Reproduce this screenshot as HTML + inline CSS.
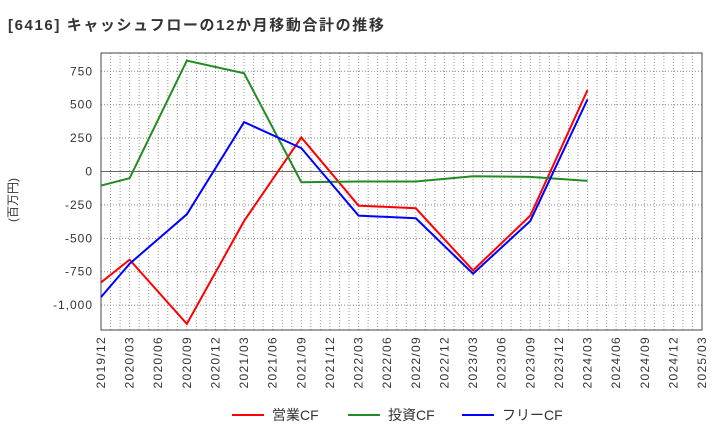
<!DOCTYPE html>
<html><head><meta charset="utf-8"><style>
body{margin:0;background:#fff;}
svg text{font-family:"Liberation Sans","Noto Sans CJK JP",sans-serif;}
</style></head><body>
<svg id="chart" width="720" height="440" xmlns="http://www.w3.org/2000/svg">
<text x="8" y="30" font-size="15" font-weight="bold" fill="#333" letter-spacing="1.6">[6416]  キャッシュフローの12か月移動合計の推移</text>
<text transform="translate(17,200) rotate(-90)" font-size="12" fill="#333" text-anchor="middle">(百万円)</text>
<g id="grid"></g><g id="axes"></g><g id="series"></g><g id="legend"></g>
</svg>
<script>
const tickLabels=["2019/12","2020/03","2020/06","2020/09","2020/12","2021/03","2021/06","2021/09","2021/12","2022/03","2022/06","2022/09","2022/12","2023/03","2023/06","2023/09","2023/12","2024/03","2024/06","2024/09","2024/12","2025/03"];
const yTicks=[750,500,250,0,-250,-500,-750,-1000];
const dates=["2019/12","2020/03","2020/09","2021/03","2021/09","2022/03","2022/09","2023/03","2023/09","2024/03"];
const operatingCF=[-830,-660,-1140,-370,255,-255,-275,-740,-330,610];
const investingCF=[-105,-50,830,735,-80,-75,-75,-35,-40,-70];
const freeCF=[-940,-690,-320,370,175,-330,-350,-765,-370,540];
const NS="http://www.w3.org/2000/svg";
const L=101,R=702,T=53,B=330,ymin=-1186,ymax=887;
function idx(d){const [y,m]=d.split("/").map(Number);return (y-2019)*12+m-12;}
const nMonths=idx("2025/03");
function xs(d){return L+idx(d)/nMonths*(R-L);}
function ys(v){return B-(v-ymin)/(ymax-ymin)*(B-T);}
function mk(tag,attrs,parent){const e=document.createElementNS(NS,tag);for(const k in attrs)e.setAttribute(k,attrs[k]);parent.appendChild(e);return e;}
const grid=document.getElementById("grid"),axes=document.getElementById("axes"),series=document.getElementById("series"),legend=document.getElementById("legend");
for(let m=1;m<nMonths;m++){const x=L+m/nMonths*(R-L);
const g=mk("line",{x1:x,x2:x,y1:T,y2:B,stroke:"#999","stroke-dasharray":"1,2","stroke-width":1},grid);

}
yTicks.forEach(v=>{const y=ys(v);
const g=mk("line",{x1:L,x2:R,y1:y,y2:y,stroke:v===0?"#666":"#888","stroke-dasharray":v===0?"":"1,2","stroke-width":1},grid);


const t=mk("text",{x:L-8,y:y+4,"text-anchor":"end","font-size":12,"letter-spacing":1,fill:"#333"},axes);t.textContent=v.toLocaleString("en-US");

});
const frame=mk("rect",{x:L,y:T,width:R-L,height:B-T,fill:"none",stroke:"#444","stroke-width":1},axes);


tickLabels.forEach(d=>{const x=xs(d);
const t=mk("text",{transform:`translate(${x+4},${B+6}) rotate(-90)`,"text-anchor":"end","font-size":12,"letter-spacing":1.3,fill:"#333"},axes);t.textContent=d;

});
const defs=[["営業CF",operatingCF,"#ff0000","operating-cf-line"],["投資CF",investingCF,"#228b22","investing-cf-line"],["フリーCF",freeCF,"#0000ff","free-cf-line"]];
defs.forEach(([name,vals,col,dn])=>{
const p=mk("polyline",{points:vals.map((v,i)=>xs(dates[i])+","+ys(v)).join(" "),fill:"none",stroke:col,"stroke-width":2},series);

});
const lx=[232,348,462];
defs.forEach(([name,vals,col,dn],i)=>{
const g=mk("g",{},legend);


mk("line",{x1:lx[i],x2:lx[i]+32,y1:415,y2:415,stroke:col,"stroke-width":2},g);
const t=mk("text",{x:lx[i]+40,y:420,"font-size":14,fill:"#333"},g);t.textContent=name;});
</script>
</body></html>
